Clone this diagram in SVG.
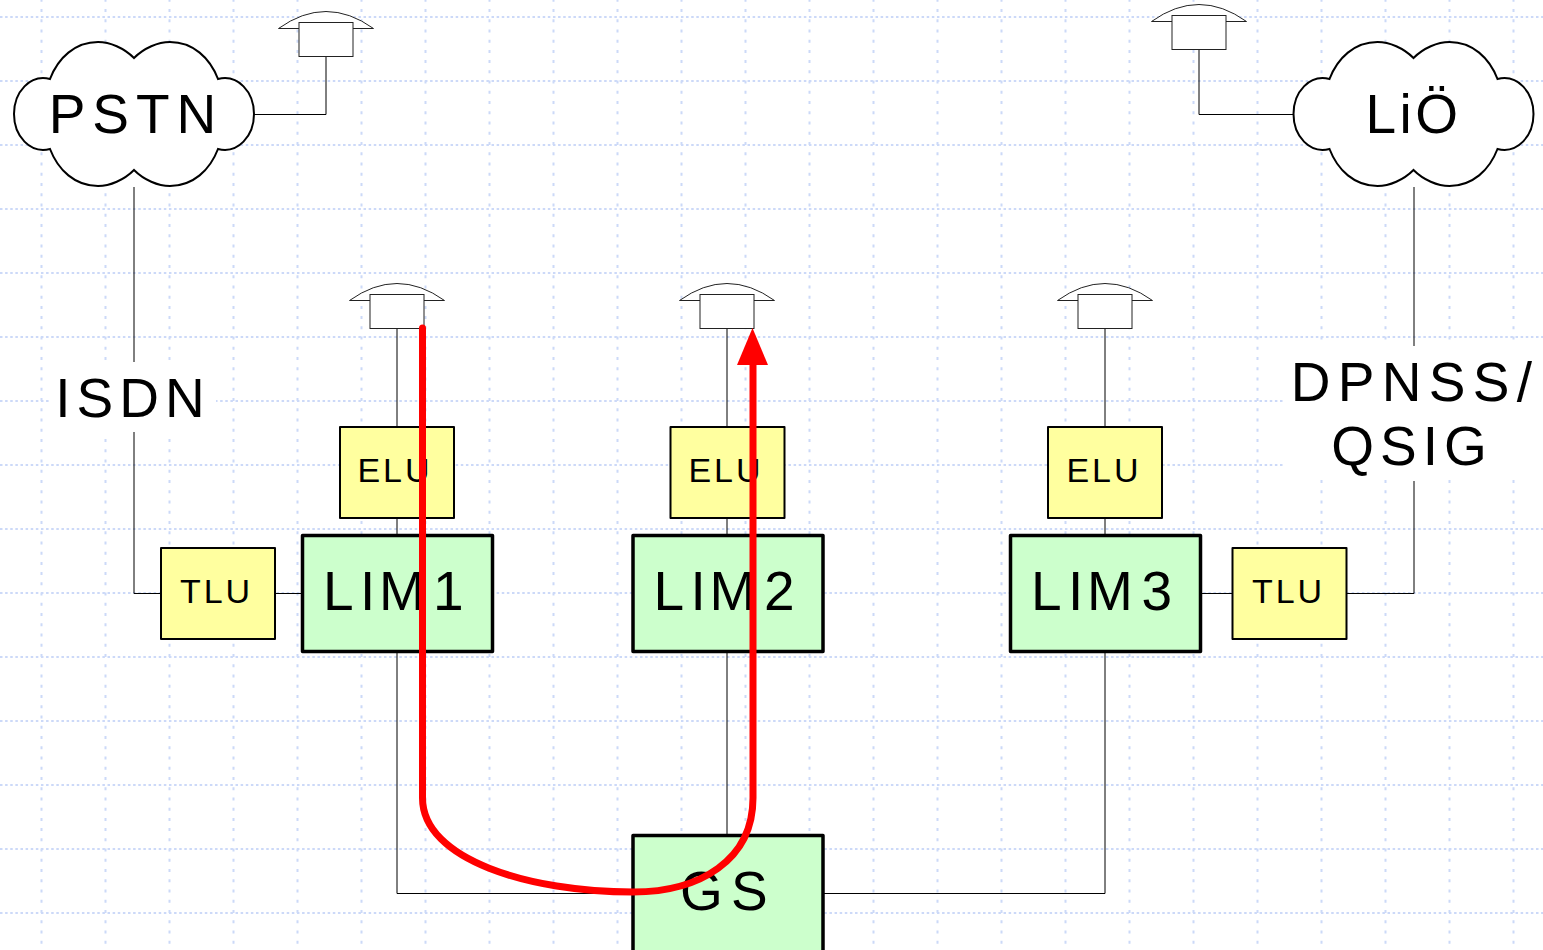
<svg xmlns="http://www.w3.org/2000/svg" width="1543" height="950" viewBox="0 0 1543 950">
<style>
.bg{fill:#fff}
.gh{stroke:#ccd9f8;stroke-width:2;stroke-dasharray:2.5 2.62;fill:none}
.gv{stroke:#ccd9f8;stroke-width:2;stroke-dasharray:3 7.24;stroke-dashoffset:1.32;fill:none}
.c{fill:none;stroke:#000;stroke-width:1}
.cloud{fill:#fff;stroke:#000;stroke-width:2}
.y{fill:#ffff9f;stroke:#000;stroke-width:2;stroke-linejoin:round}
.g{fill:#ccffcc;stroke:#000;stroke-width:3.5;stroke-linejoin:round}
.ph{fill:#fff;stroke:#222;stroke-width:1}
text{font-family:"Liberation Sans",Arial,sans-serif;fill:#000;text-anchor:middle}
.big{font-size:55px}
.mid{font-size:34px;letter-spacing:3px}
.st{text-anchor:start}
.red{fill:none;stroke:#ff0000;stroke-width:7;stroke-linecap:round}
</style>
<defs>
<g id="phone">
<path class="ph" d="M-47.500 3Q0 -31 47.500 3Z"/>
<rect class="ph" x="-27" y="-3" width="54" height="34"/>
</g>
<path id="cl" class="cloud" d="M0 -56C-10 -66 -24 -72 -36 -72C-59 -72 -76 -56 -84 -35C-104 -40 -120 -22 -120 0C-120 22 -104 40 -84 35C-76 56 -59 72 -36 72C-24 72 -10 66 0 56C10 66 24 72 36 72C59 72 76 56 84 35C104 40 120 22 120 0C120 -22 104 -40 84 -35C76 -56 59 -72 36 -72C24 -72 10 -66 0 -56Z"/>
</defs>
<rect class="bg" width="1543" height="950"/>
<g id="grid">
<path class="gh" d="M0 17H1543M0 81H1543M0 145H1543M0 209H1543M0 273H1543M0 337H1543M0 401H1543M0 465H1543M0 529H1543M0 593H1543M0 657H1543M0 721H1543M0 785H1543M0 849H1543M0 913H1543"/>
<path class="gv" d="M41.500 0V950M105.500 0V950M169.500 0V950M233.500 0V950M297.500 0V950M361.500 0V950M425.500 0V950M489.500 0V950M553.500 0V950M617.500 0V950M681.500 0V950M745.500 0V950M809.500 0V950M873.500 0V950M937.500 0V950M1001.500 0V950M1065.500 0V950M1129.500 0V950M1193.500 0V950M1257.500 0V950M1321.500 0V950M1385.500 0V950M1449.500 0V950M1513.500 0V950"/>
<rect class="bg" x="50" y="362" width="166" height="70"/>
<rect class="bg" x="1284" y="346" width="259" height="134"/>
</g>
<g id="connectors">
<path class="c" d="M254 114.500H326V56"/>
<path class="c" d="M134 187V362M134 432V593.500H161"/>
<path class="c" d="M275 593.500H303"/>
<path class="c" d="M1293 114.500H1199V49"/>
<path class="c" d="M1414 187V346M1414 481V593.500H1346"/>
<path class="c" d="M1200 593.500H1233"/>
<path class="c" d="M397 329V427M397 518V535M397 652V893.500H634"/>
<path class="c" d="M727 329V427M727 518V535M727 652V835"/>
<path class="c" d="M1105 329V427M1105 518V535M1105 652V893.500H822"/>
</g>
<g id="pstn"><use href="#cl" x="134" y="114"/><text class="big" style="letter-spacing:7px" x="136" y="133">PSTN</text></g>
<g id="lio"><use href="#cl" x="1413.500" y="114"/><text class="big" style="letter-spacing:3.500px" x="1413.500" y="133">LiÖ</text></g>
<g id="phone1"><use href="#phone" x="326" y="25.500"/></g>
<g id="phone2"><use href="#phone" x="1199" y="18.500"/></g>
<g id="phone3"><use href="#phone" x="397" y="297.500"/></g>
<g id="phone4"><use href="#phone" x="727" y="297.500"/></g>
<g id="phone5"><use href="#phone" x="1105" y="297.500"/></g>
<g id="isdn"><text class="big" style="letter-spacing:6px" x="133" y="417">ISDN</text></g>
<g id="dpnss"><text class="big" style="letter-spacing:7.300px" x="1415" y="401">DPNSS/</text><text class="big" style="letter-spacing:6px" x="1412" y="465">QSIG</text></g>
<g id="elu1"><rect class="y" x="340" y="427" width="114" height="91"/><text class="mid" x="395" y="482">ELU</text></g>
<g id="elu2"><rect class="y" x="670.500" y="427" width="114" height="91"/><text class="mid" x="726" y="482">ELU</text></g>
<g id="elu3"><rect class="y" x="1048" y="427" width="114" height="91"/><text class="mid" x="1104" y="482">ELU</text></g>
<g id="tlu1"><rect class="y" x="161" y="548" width="114" height="91"/><text class="mid" x="216.500" y="603">TLU</text></g>
<g id="tlu2"><rect class="y" x="1232.500" y="548" width="114" height="91"/><text class="mid" x="1288.500" y="603">TLU</text></g>
<g id="lim1"><rect class="g" x="302.500" y="535.500" width="190" height="116"/><text class="big st" x="323 360 379 433" y="610">LIM1</text></g>
<g id="lim2"><rect class="g" x="633" y="535.500" width="190" height="116"/><text class="big st" x="653.500 690.500 709.500 764" y="610">LIM2</text></g>
<g id="lim3"><rect class="g" x="1010.500" y="535.500" width="190" height="116"/><text class="big st" x="1031 1068 1087 1141.500" y="610">LIM3</text></g>
<g id="gs"><rect class="g" x="633" y="835.500" width="190" height="120"/><text class="big st" x="680 731" y="910">GS</text></g>
<g id="flow">
<path class="red" d="M422.500 328V798C422.500 860 530 892 633 892C700 892 753 860 753 798V362"/>
<path d="M752.500 328L737 365H768Z" fill="#ff0000"/>
</g>
</svg>
